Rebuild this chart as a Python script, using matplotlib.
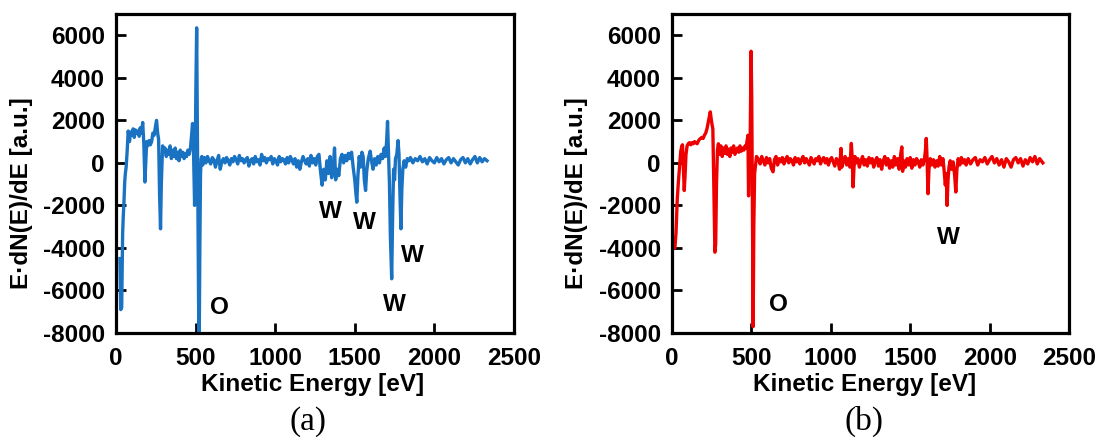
import matplotlib
matplotlib.use("Agg")
import matplotlib.pyplot as plt

# =========================
# DATA
# =========================
energy_a = [25, 30, 36, 42, 46, 50, 55, 59, 64, 70, 77, 85, 92, 100, 108, 115, 122, 130, 138, 146,
            152, 160, 168, 175, 182, 188, 193, 200, 208, 216, 224, 232, 240, 248, 255, 262, 268, 274,
            280, 285, 293, 300, 308, 316, 324, 332, 340, 348, 356, 364, 372, 380, 388, 396, 404, 412,
            420, 428, 436, 444, 452, 460, 468, 474, 481, 486, 490, 494, 498, 502, 507, 511, 515, 519,
            523, 527, 531, 535, 540,
            545, 555, 565, 575, 585, 595, 605, 615, 625, 635, 645, 655, 665, 675, 685, 695, 705, 715,
            725, 735, 745, 755, 765, 775, 785, 795, 805, 815, 825, 835, 845, 855, 865, 875, 885, 895,
            905, 915, 925, 935, 945, 955, 965, 975, 985, 995, 1005, 1015, 1025, 1035, 1045, 1055, 1065,
            1075, 1085, 1095, 1105, 1115, 1125, 1135, 1145, 1155, 1165, 1175, 1185, 1195, 1205, 1215,
            1225, 1235, 1245, 1255, 1265, 1275,
            1285, 1295, 1305, 1315, 1325, 1335, 1345, 1355, 1365, 1373, 1380, 1390, 1400, 1410, 1420,
            1430, 1440, 1450, 1460, 1470, 1480, 1490, 1500, 1508, 1513, 1520, 1528, 1536, 1545, 1553,
            1560, 1568, 1575, 1585, 1597, 1605, 1615, 1625, 1635, 1645, 1655, 1665, 1675, 1685, 1693,
            1700, 1706, 1712, 1718, 1724, 1732, 1738, 1744, 1750, 1756, 1764, 1772, 1778, 1784, 1790,
            1796, 1802, 1810, 1820, 1830, 1840,
            1850, 1865, 1880, 1895, 1910, 1925, 1940, 1955, 1970, 1985, 2000, 2015, 2030, 2045, 2060,
            2075, 2090, 2105, 2120, 2135, 2150, 2165, 2180, 2195, 2210, 2225, 2240, 2255, 2270, 2285,
            2300, 2315, 2331]
signal_a = [-4500, -6900, -6800, -3300, -2500, -1900, -900, -500, -200, 500, 1500, 1000, 1450, 1300,
            1600, 1200, 1550, 1400, 1500, 1250, 1650, 1400, 1900, 900, -900, 200, 1000, 800, 1050, 850,
            1000, 1400, 1300, 1700, 2000, 1400, 1100, -1500, -3100, -1000, 800, 500, 700, 300, 600, 400,
            800, 200, 600, 300, 700, 200, 500, 100, 600, 300, 500, 200, 450, 300, 600, 400, 700, 1200,
            1850, 1000, -500, -2000, 200, 3500, 6350, 2000, -3000, -6500, -8500, -4000, -600, 200, 300,
            -100, 250, 0, 300, 100, -50, 250, 150, -200, 100, 350, -300, 50, 200, 0, 250, 100, -100,
            200, 50, 300, 150, -50, 350, 100, 200, 0, 150, 250, -150, 100, 200, -50, 300, 50, 150,
            -100, 400, 100, 250, 0, 200, 150, 300, -50, 200, 100, -100, 300, 50, 200, 150, -50,
            250, 0, 300, 150, -50, 200, -200, 100, -300, 50, 300, 100, -50, 200, -150,
            350, 0, 200, -100, 300, 400,
            -400, -1050, -300, -800, 100, -500, 300, -700, -200, 700, -800, -300, -600, 200, 400,
            0, 350, 100, 450, 200, 500, -200, -800, -1500, -1850, -600, 300, -200, 500, 300,
            -800, -1300, -400, 200, 550, 100, -300, 200, -100, 300, 0, 400, 200, 700, 300,
            1000, 1950, 500, -1000, -3500, -5450, -2500, -300, -800, 200, 400, 1050, 400, -1500, -3100,
            -1200, -300, 100, -200, 200, 100,
            250, 0, 200, 100, 300, 50, 200, -50, 250, 100, 0, 250, 50, 200, -50,
            150, 250, 0, 200, 50, -100, 150, 250, 0, 200, -50, 150, 300, 0, 250,
            50, 200, 100]

energy_b = [11, 18, 25, 33, 40, 47, 55, 62, 66, 72, 77, 82, 88, 95, 102, 110, 118, 126, 134, 142, 150,
            158, 164, 172, 180, 188, 196, 204, 212, 220, 228, 236, 241, 246, 252, 257, 262, 266, 270,
            275, 280, 286, 292, 300, 308, 316, 324, 332, 340, 348, 356, 364, 372, 380, 388, 396, 404,
            412, 420, 428, 436, 444, 452, 460, 466, 472, 478, 482, 486, 490, 494, 498, 502, 506, 511,
            515, 520, 526, 532,
            545, 555, 565, 575, 585, 595, 605, 615, 625, 636, 645, 655, 665, 675, 685, 695, 705, 715,
            725, 735, 745, 755, 765, 775, 785, 795, 805, 815, 825, 835, 845, 855, 865, 875, 885, 895,
            905, 915, 925, 935, 945, 955, 965, 975, 985, 995, 1005, 1015, 1025, 1035, 1045, 1055, 1064,
            1070, 1080, 1090, 1100, 1110, 1120, 1129, 1135, 1140, 1146, 1152, 1160, 1170, 1180, 1190,
            1200, 1210, 1220, 1230, 1240, 1250, 1260, 1270, 1280, 1290, 1300, 1310, 1320, 1330, 1340,
            1350, 1360, 1370, 1380, 1390, 1400, 1410, 1420, 1430, 1440, 1447, 1452, 1460, 1470, 1480,
            1490, 1500, 1510, 1520, 1530, 1540, 1550, 1560, 1570, 1580, 1590, 1596, 1601, 1606, 1612,
            1618, 1626, 1636, 1646, 1656, 1666, 1676, 1686, 1696, 1706, 1714, 1721, 1727, 1732, 1738,
            1744, 1752, 1760, 1770, 1780, 1787, 1794, 1802, 1812, 1822, 1832, 1842, 1852,
            1865, 1880, 1895, 1910, 1925, 1940, 1955, 1970, 1985, 2000, 2015, 2030, 2045, 2060, 2075,
            2090, 2105, 2120, 2135, 2150, 2165, 2180, 2195, 2210, 2225, 2240, 2255, 2270, 2285, 2300,
            2315, 2335]
signal_b = [-3950, -4000, -3300, -1700, -900, -200, 550, 800, 850, -300, -1300, -600, 400, 800, 900,
            950, 850, 950, 900, 1000, 950, 900, 1000, 1100, 1150, 1200, 1150, 1300, 1400, 1600, 1900,
            2200, 2400, 2100, 1800, 1600, -500, -2500, -4200, -3800, -1000, 600, 900, 400, 800, 300,
            700, 450, 800, 400, 650, 300, 700, 500, 800, 400, 600, 700, 500, 800, 550, 700, 600, 800,
            700, 1000, 1300, -1550, 200, -500, 2500, 5250, 3000, -2000, -7700, -3000, -500, -100, 300,
            150, -50, 300, 100, -100, 250, 0, 200, -250, -420, 150, 300, -100, 200, 50, 250, -50, 150,
            300, 0, 200, 100, -100, 250, 50, 200, -50, 150, 300, 0, 200, 50, -100, 250, 100, -50,
            200, 100, 300, -50, 150, 250, 0, 200, -100, 150, 250, 50, -150, 200, 100, -300, 680,
            -200, 100, 300, -100, 200, -200, 915, 200, -1130, -200, 300, 0, 200, -200, 100,
            300, -100, 150, -150, 250, 0, 200, -200, 100, 250, -150, 150, -300, 100, 300,
            -100, 200, -250, 100, -200, 300, -100, 200, -300, 400, 750, -400, 100, -200, 200,
            -100, 250, -250, 150, -100, 200, 50, -200, 150, -100, 200, 600, 1150, 200, -1450,
            -300, 200, -100, 150, -200, 100, -150, 300, -100, 200, -400, -1050, -500, -2000, -800,
            -200, 100, -300, 50, -600, -1370, -300, 200, -100, 250, 0, 150, -100,
            200, -50, 150, 250, -100, 150, 50, 250, -50, 150, 300, 0, 200, -100, 150,
            -200, 200, 50, -200, 150, 250, 0, 200, -150, 150, -50, 250, 50, 300, -50,
            200, 0]

x_ticks = [0, 500, 1000, 1500, 2000, 2500]
y_ticks = [-8000, -6000, -4000, -2000, 0, 2000, 4000, 6000]

labels_a = ["O", "W", "W", "W", "W"]
label_x_a = [653, 1344, 1563, 1860, 1750]
label_y_a = [-6800, -2300, -2800, -4350, -6650]
labels_b = ["O", "W"]
label_x_b = [669, 1743]
label_y_b = [-6650, -3500]

# =========================
# STYLE
# =========================
plt.rcParams["font.family"] = ["Liberation Sans", "DejaVu Sans"]
plt.rcParams["font.weight"] = "bold"
plt.rcParams["axes.unicode_minus"] = False
FS = 17.5

fig = plt.figure(figsize=(10.97, 4.38), dpi=100)
ax_a = fig.add_axes([0.1057, 0.2397, 0.3628, 0.7283])
ax_b = fig.add_axes([0.6126, 0.2397, 0.3619, 0.7283])


def style_axes(ax, xlab_x, ylab_x):
    ax.set_xlim(0, 2500)
    ax.set_ylim(-8000, 7000)
    ax.set_xticks(x_ticks)
    ax.set_yticks(y_ticks)
    ax.tick_params(direction="in", length=7, width=2, labelsize=FS, top=False, right=False)
    ax.tick_params(axis="x", pad=10)
    ax.tick_params(axis="y", pad=8)
    for lab in ax.get_xticklabels() + ax.get_yticklabels():
        lab.set_fontweight("bold")
    for sp in ax.spines.values():
        sp.set_linewidth(2.3)
    ax.set_xlabel("Kinetic Energy [eV]", fontsize=FS, fontweight="bold")
    ax.set_ylabel("E\u00b7dN(E)/dE [a.u.]", fontsize=FS, fontweight="bold")
    ax.xaxis.set_label_coords(xlab_x, -0.125)
    ax.yaxis.set_label_coords(ylab_x, 0.44)


# =========================
# PANEL (a)
# =========================
ax_a.plot(energy_a, signal_a, color="#1a73c2", linewidth=2.4)
style_axes(ax_a, 0.494, -0.209)
for t, x, y in zip(labels_a, label_x_a, label_y_a):
    ax_a.text(x, y, t, fontsize=FS, fontweight="bold", ha="center", va="center")

# =========================
# PANEL (b)
# =========================
ax_b.plot(energy_b, signal_b, color="#ee0000", linewidth=2.4)
style_axes(ax_b, 0.486, -0.212)
for t, x, y in zip(labels_b, label_x_b, label_y_b):
    ax_b.text(x, y, t, fontsize=FS, fontweight="bold", ha="center", va="center")

fig.text(0.281, 0.037, "(a)", fontsize=24, family="Liberation Serif", fontweight="normal",
         ha="center", va="center")
fig.text(0.788, 0.037, "(b)", fontsize=24, family="Liberation Serif", fontweight="normal",
         ha="center", va="center")

fig.savefig("out.png", dpi=100)
